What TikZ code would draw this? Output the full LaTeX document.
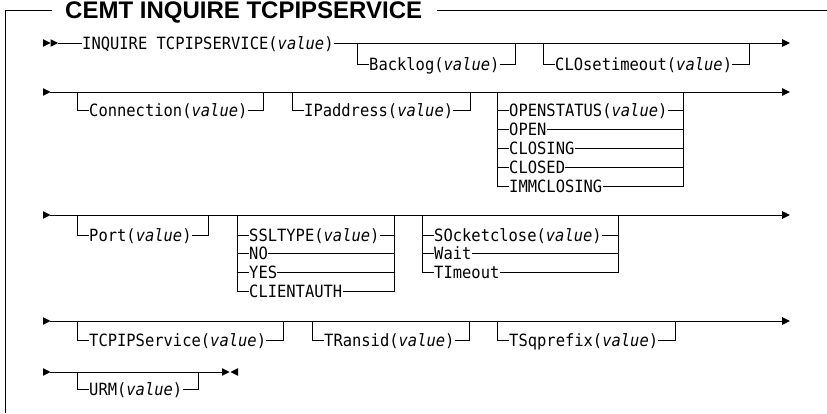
\documentclass[tikz,border=0pt]{standalone}
\usepackage{fontspec}
\setmonofont[FakeStretch=0.915]{DejaVu Sans Mono}
\newfontfamily\titlefont{Liberation Sans}
\usetikzlibrary{arrows.meta}

\tikzset{
  lbl/.style={anchor=west, inner xsep=0pt, inner ysep=0pt, text height=12.2pt, text depth=0pt,
              font=\ttfamily\fontsize{16.9}{19}\selectfont},
  ln/.style={line width=1pt},
  endarrow/.style={-{Triangle[length=8pt,width=7.5pt]}},
  ttl/.style={anchor=west, inner sep=0pt, text height=17.2pt, text depth=0pt,
              font=\titlefont\bfseries\fontsize{24}{28}\selectfont},
}

% optional single item: name, xl, xr, y0, y1, text
\newcommand\optitem[6]{%
  \coordinate (#1-a) at (#2,#4);
  \coordinate (#1-b) at (#3,#4);
  \node[lbl] (#1) at ({#2+12},#5) {#6};
  \draw[ln] (#1-a) |- (#1.west);
  \draw[ln] (#1.east) -| (#1-b);
}
% triangle markers
\newcommand\rtri[1]{\fill (#1) ++(0,-3.8) -- ++(7.5,3.8) -- ++(-7.5,3.8) -- cycle;}
\newcommand\ltri[1]{\fill (#1) ++(7.5,-3.8) -- ++(-7.5,3.8) -- ++(7.5,3.8) -- cycle;}

\begin{document}
\begin{tikzpicture}[x=1pt,y=-1pt]
\useasboundingbox (0,0) rectangle (827,413);

% ---- frame and title
\node[ttl] (title) at (65,10) {CEMT INQUIRE TCPIPSERVICE};
\coordinate (fbl) at (5,413);
\coordinate (ftl) at (5,10);
\coordinate (ftr) at (827,10);
\draw[ln] (fbl) -- (ftl) -- ([xshift=-13pt]title.west);
\draw[ln] ([xshift=15pt]title.east) -- (ftr);

% ---- row 1
\coordinate (r1s) at (43,43);
\coordinate (r1e) at (790,43);
\rtri{r1s}
\rtri{[xshift=7.5pt]r1s}
\node[lbl] (inq) at (82,43) {INQUIRE TCPIPSERVICE(\textit{value})};
\draw[ln] ([xshift=15pt]r1s) -- (inq.west);
\draw[ln,endarrow] (inq.east) -- (r1e);
\optitem{bk}{357}{515}{43}{64}{Backlog(\textit{value})}
\optitem{clo}{543}{749}{43}{64}{CLOsetimeout(\textit{value})}

% ---- row 2
\coordinate (r2s) at (43,92);
\coordinate (r2e) at (790,92);
\rtri{r2s}
\draw[ln,endarrow] ([xshift=7pt]r2s) -- (r2e);
\optitem{con}{77}{263}{92}{110}{Connection(\textit{value})}
\optitem{ip}{292}{470}{92}{110}{IPaddress(\textit{value})}
\coordinate (os-a) at (497,92);
\coordinate (os-b) at (683,92);
\node[lbl] (os1) at (509,110) {OPENSTATUS(\textit{value})};
\node[lbl] (os2) at (509,129) {OPEN};
\node[lbl] (os3) at (509,148) {CLOSING};
\node[lbl] (os4) at (509,167) {CLOSED};
\node[lbl] (os5) at (509,186) {IMMCLOSING};
\draw[ln] (os-a) |- (os5.west);
\draw[ln] (os-b) |- (os5.east);
\foreach \n in {1,...,4}{
  \draw[ln] (os-a |- os\n.west) -- (os\n.west);
  \draw[ln] (os\n.east) -- (os-b |- os\n.east);
}

% ---- row 3
\coordinate (r3s) at (43,215);
\coordinate (r3e) at (790,215);
\rtri{r3s}
\draw[ln,endarrow] ([xshift=7pt]r3s) -- (r3e);
\optitem{port}{77}{208}{215}{235}{Port(\textit{value})}
\coordinate (ss-a) at (237,215);
\coordinate (ss-b) at (394,215);
\node[lbl] (ss1) at (249,235) {SSLTYPE(\textit{value})};
\node[lbl] (ss2) at (249,253.7) {NO};
\node[lbl] (ss3) at (249,272.3) {YES};
\node[lbl] (ss4) at (249,291) {CLIENTAUTH};
\draw[ln] (ss-a) |- (ss4.west);
\draw[ln] (ss-b) |- (ss4.east);
\foreach \n in {1,...,3}{
  \draw[ln] (ss-a |- ss\n.west) -- (ss\n.west);
  \draw[ln] (ss\n.east) -- (ss-b |- ss\n.east);
}
\coordinate (sc-a) at (422,215);
\coordinate (sc-b) at (618,215);
\node[lbl] (sc1) at (434,235) {SOcketclose(\textit{value})};
\node[lbl] (sc2) at (434,253.7) {Wait};
\node[lbl] (sc3) at (434,272.3) {TImeout};
\draw[ln] (sc-a) |- (sc3.west);
\draw[ln] (sc-b) |- (sc3.east);
\foreach \n in {1,2}{
  \draw[ln] (sc-a |- sc\n.west) -- (sc\n.west);
  \draw[ln] (sc\n.east) -- (sc-b |- sc\n.east);
}

% ---- row 4
\coordinate (r4s) at (43,321);
\coordinate (r4e) at (790,321);
\rtri{r4s}
\draw[ln,endarrow] ([xshift=7pt]r4s) -- (r4e);
\optitem{tcs}{77}{283}{321}{340}{TCPIPService(\textit{value})}
\optitem{tr}{312}{469}{321}{340}{TRansid(\textit{value})}
\optitem{tsq}{497}{675}{321}{340}{TSqprefix(\textit{value})}

% ---- row 5
\coordinate (r5s) at (43,372);
\coordinate (r5e) at (222,372);
\rtri{r5s}
\draw[ln] ([xshift=7pt]r5s) -- (r5e);
\rtri{r5e}
\ltri{[xshift=8.5pt]r5e}
\optitem{urm}{77}{198}{372}{389}{URM(\textit{value})}
\end{tikzpicture}
\end{document}
